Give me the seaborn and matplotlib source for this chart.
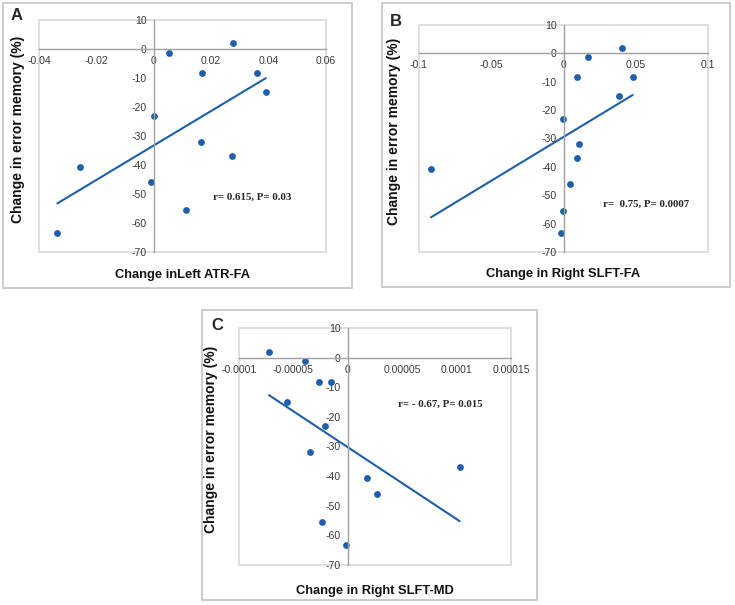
import numpy as np
import pandas as pd
import matplotlib
matplotlib.use("Agg")
import matplotlib.pyplot as plt
import seaborn as sns
from matplotlib.patches import Rectangle
from matplotlib.ticker import FuncFormatter, MultipleLocator

# change in error memory (%), same subjects in all three panels
memory = [2.0, -1.3, -8.2, -8.3, -14.9, -23.0, -32.0, -37.0, -40.6, -46.0, -55.5, -63.3]

left_atr_fa = [0.0275, 0.0053, 0.0169, 0.0361, 0.0390, 0.0, 0.0163, 0.0274, -0.0258, -0.0010, 0.0111, -0.0336]
right_slft_fa = [0.0406, 0.0170, 0.0090, 0.0479, 0.0387, -0.0005, 0.0104, 0.0090, -0.0917, 0.0044, -0.0005, -0.0020]
right_slft_md = [-7.24e-5, -3.93e-5, -2.65e-5, -1.54e-5, -5.59e-5, -2.10e-5, -3.50e-5, 1.028e-4, 1.76e-5, 2.68e-5, -2.40e-5, -1.3e-6]

panel_letters = ["A", "B", "C"]
x_labels = ["Change inLeft ATR-FA", "Change in Right SLFT-FA", "Change in Right SLFT-MD"]
stats_text = ["r= 0.615, P= 0.03", "r=  0.75, P= 0.0007", "r= - 0.67, P= 0.015"]
x_limits = [(-0.04, 0.06), (-0.1, 0.1), (-0.0001, 0.00015)]
x_steps = [0.02, 0.05, 0.00005]

sns.set_style("white")
plt.rcParams["font.family"] = ["Liberation Sans", "DejaVu Sans"]
plt.rcParams["axes.unicode_minus"] = False

BLUE = "#1f5fa9"
AXIS_GRAY = "#a0a0a0"


def fmt(v, pos):
    return np.format_float_positional(round(v, 10), trim="-")


def draw_panel(fig, ax, x, xlabel, letter, text, xlim, step, box, text_pos, xlab_pos, ylab_pos, letter_pos):
    df = pd.DataFrame({"x": x, "y": memory})
    sns.regplot(data=df, x="x", y="y", ax=ax, ci=None, truncate=True,
                scatter_kws={"s": 24, "color": BLUE, "linewidths": 0, "alpha": 1},
                line_kws={"color": BLUE, "lw": 1.5})
    ax.set_xlim(*xlim)
    ax.set_ylim(-70, 10)
    ax.xaxis.set_major_locator(MultipleLocator(step))
    ax.yaxis.set_major_locator(MultipleLocator(10))
    ax.xaxis.set_major_formatter(FuncFormatter(fmt))
    ax.yaxis.set_major_formatter(FuncFormatter(fmt))

    for s in ["top", "right"]:
        ax.spines[s].set_visible(False)
    ax.spines["left"].set_position(("data", 0))
    ax.spines["bottom"].set_position(("data", 0))
    for s in ["left", "bottom"]:
        ax.spines[s].set_color(AXIS_GRAY)
        ax.spines[s].set_linewidth(1.0)
    ax.tick_params(direction="inout", length=6, width=1, color=AXIS_GRAY,
                   labelsize=7.6, labelcolor="#3a3a3a", pad=2)

    # plot area border
    ax.add_patch(Rectangle((0, 0), 1, 1, transform=ax.transAxes, fill=False,
                           edgecolor="#d9d9d9", lw=1.2, clip_on=False, zorder=0))

    ax.set_xlabel(xlabel, fontsize=9.3, fontweight="bold", color="#111111")
    ax.set_ylabel("Change in error memory (%)", fontsize=10, fontweight="bold", color="#111111")
    ax.xaxis.set_label_coords(*xlab_pos)
    ax.yaxis.set_label_coords(*ylab_pos)

    ax.text(text_pos[0], text_pos[1], text, transform=ax.transAxes, ha="center", va="center",
            fontsize=7.8, fontweight="bold", family="Liberation Serif")

    W, H = fig.get_size_inches() * fig.dpi
    bx0, by0, bx1, by1 = box
    fig.add_artist(Rectangle((bx0 / W, 1 - by1 / H), (bx1 - bx0) / W, (by1 - by0) / H,
                             transform=fig.transFigure, fill=False, edgecolor="#c4c4c4", lw=1.2))
    fig.text(letter_pos[0] / W, 1 - letter_pos[1] / H, letter, fontsize=12, fontweight="bold",
             ha="left", va="center")


fig = plt.figure(figsize=(7.35, 6.05), dpi=100)
W, H = 735, 605


def axes_from_px(x0, y0, x1, y1):
    return fig.add_axes([x0 / W, 1 - y1 / H, (x1 - x0) / W, (y1 - y0) / H])


ax_a = axes_from_px(39, 20, 326, 252)
ax_b = axes_from_px(419, 25, 708, 252)
ax_c = axes_from_px(239, 328, 511, 565)

draw_panel(fig, ax_a, left_atr_fa, x_labels[0], panel_letters[0], stats_text[0], x_limits[0], x_steps[0],
           (3, 3, 352, 288), (0.742, 0.237), (0.5, -0.075), (-0.049, 0.53), (11, 16))
draw_panel(fig, ax_b, right_slft_fa, x_labels[1], panel_letters[1], stats_text[1], x_limits[1], x_steps[1],
           (382, 3, 730, 287), (0.785, 0.211), (0.5, -0.072), (-0.062, 0.53), (390, 22))
draw_panel(fig, ax_c, right_slft_md, x_labels[2], panel_letters[2], stats_text[2], x_limits[2], x_steps[2],
           (202, 310, 537, 600), (0.739, 0.679), (0.5, -0.085), (-0.077, 0.53), (211, 325))

fig.savefig("out.png", dpi=100)
